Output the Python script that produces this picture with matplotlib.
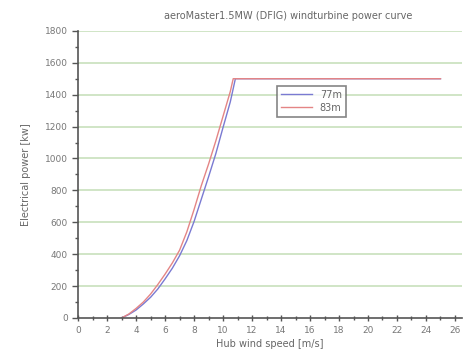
import matplotlib.pyplot as plt
from matplotlib.ticker import MultipleLocator

# power curves (wind speed in m/s, power in kW)
speed_77 = [3, 3.5, 4, 4.5, 5, 5.5, 6, 6.5, 7, 7.5, 8, 8.5, 9, 9.5, 10, 10.5, 10.85, 25]
power_77 = [0, 22, 50, 88, 130, 182, 245, 312, 390, 485, 605, 745, 885, 1030, 1195, 1355, 1500, 1500]

speed_83 = [3, 3.5, 4, 4.5, 5, 5.5, 6, 6.5, 7, 7.5, 8, 8.5, 9, 9.5, 10, 10.5, 10.7, 25]
power_83 = [0, 25, 60, 100, 150, 210, 275, 345, 425, 540, 680, 830, 965, 1110, 1265, 1420, 1500, 1500]

x_ticks = list(range(0, 27, 2))
y_ticks = list(range(0, 1801, 200))

fig = plt.figure(figsize=(4.65, 3.63), dpi=100)
ax = fig.add_axes([0.168, 0.124, 0.826, 0.791])

for y in y_ticks[1:]:
    ax.axhline(y, color='#c8e0bc', lw=1.2, zorder=0)

ax.plot(speed_77, power_77, color='#7a7ad2', lw=1.0, label='77m')
ax.plot(speed_83, power_83, color='#e48585', lw=1.0, label='83m')

ax.set_xlim(0, 26.5)
ax.set_ylim(0, 1800)
ax.set_xticks(x_ticks)
ax.set_yticks(y_ticks)
ax.xaxis.set_minor_locator(MultipleLocator(1))
ax.yaxis.set_minor_locator(MultipleLocator(100))

for side in ['top', 'right']:
    ax.spines[side].set_visible(False)
for side in ['left', 'bottom']:
    ax.spines[side].set_color('#555555')
    ax.spines[side].set_linewidth(1.2)

ax.tick_params(axis='x', which='both', direction='inout', colors='#555555', labelcolor='#777777',
               labelsize=6.5, length=4, width=1)
ax.tick_params(axis='x', which='minor', length=3)
ax.tick_params(axis='y', which='both', direction='out', colors='#555555', labelcolor='#777777',
               labelsize=6.5, length=4, width=1)
ax.tick_params(axis='y', which='minor', length=2.5)

ax.set_xlabel('Hub wind speed [m/s]', fontsize=7, color='#666666', labelpad=3)
ax.set_ylabel('Electrical power [kw]', fontsize=7, color='#666666', labelpad=10)
fig.text(0.62, 0.955, 'aeroMaster1.5MW (DFIG) windturbine power curve',
         ha='center', va='center', fontsize=7, color='#666666')

leg = ax.legend(loc='upper left', bbox_to_anchor=(277 / 465, 1 - 86 / 363),
                bbox_transform=fig.transFigure, fontsize=7, frameon=True,
                fancybox=False, borderpad=0.4, handlelength=3.2, labelspacing=0.3,
                borderaxespad=0)
leg.get_frame().set_edgecolor('#666666')
leg.get_frame().set_linewidth(1.2)
for t in leg.get_texts():
    t.set_color('#666666')

fig.savefig('out.png', dpi=100)
